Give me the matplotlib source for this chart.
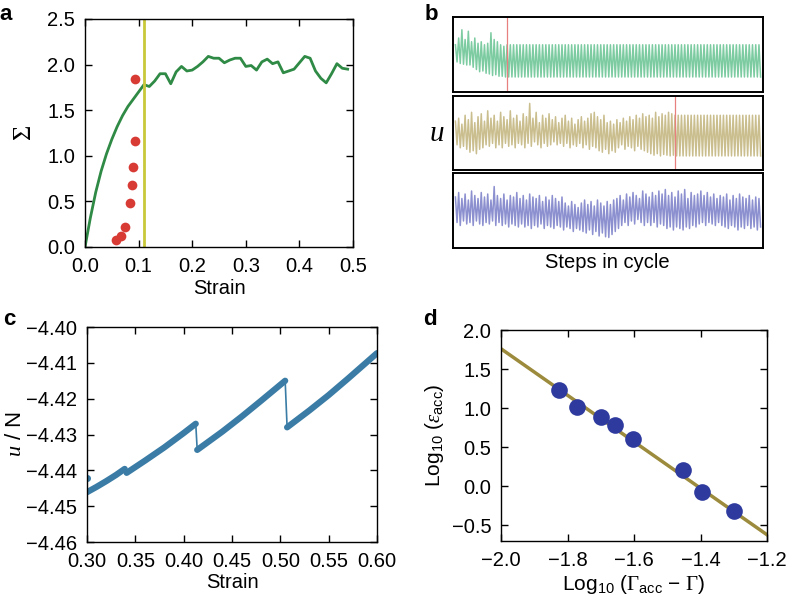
import matplotlib
matplotlib.use("Agg")
import matplotlib.pyplot as plt
import numpy as np

plt.rcParams['font.family'] = ['Liberation Sans', 'DejaVu Sans']
plt.rcParams['mathtext.fontset'] = 'custom'
plt.rcParams['mathtext.rm'] = 'Liberation Serif'
plt.rcParams['mathtext.it'] = 'Liberation Serif:italic'
plt.rcParams['mathtext.sf'] = 'Liberation Sans'

# ---- panel a: stress-strain curve ----
strain_a = [0.00, 0.01, 0.02, 0.03, 0.04, 0.05, 0.06, 0.07, 0.08, 0.09, 0.10, 0.11,
            0.12, 0.13, 0.14, 0.15, 0.16, 0.17, 0.18, 0.19, 0.20, 0.21, 0.22, 0.23,
            0.24, 0.25, 0.26, 0.27, 0.28, 0.29, 0.30, 0.31, 0.32, 0.33, 0.34, 0.35,
            0.36, 0.37, 0.38, 0.39, 0.40, 0.41, 0.42, 0.43, 0.44, 0.45, 0.46, 0.47,
            0.48, 0.49]
sigma_a = [0.00, 0.32, 0.60, 0.83, 1.02, 1.18, 1.32, 1.44, 1.54, 1.62, 1.70, 1.78,
           1.76, 1.82, 1.90, 1.90, 1.79, 1.92, 1.98, 1.93, 1.94, 1.98, 2.03, 2.09,
           2.07, 2.07, 2.02, 2.05, 2.07, 2.07, 1.98, 1.99, 1.94, 2.03, 2.06, 2.01,
           2.03, 1.91, 1.93, 1.95, 2.02, 2.09, 2.07, 1.93, 1.85, 1.80, 1.90, 2.01,
           1.96, 1.95]
red_strain = [0.058, 0.068, 0.074, 0.0845, 0.0876, 0.089, 0.0925, 0.094]
red_sigma = [0.08, 0.12, 0.22, 0.48, 0.68, 0.88, 1.16, 1.84]
yield_strain = 0.11

# ---- panel b: energy traces over a cycle (normalised to box height) ----
green_peaks = [0.63, 0.72, 0.83, 0.70, 0.81, 0.67, 0.72, 0.65, 0.67, 0.63, 0.65, 0.79,
               0.70, 0.67, 0.63, 0.61]
green_troughs = [0.40, 0.38, 0.37, 0.36, 0.36, 0.33, 0.30, 0.27, 0.28, 0.25, 0.24, 0.22,
                 0.23, 0.21, 0.21, 0.20]
green_cycle = [0.63, 0.20]
green_n_cycles = 79

tan_peaks = [0.66, 0.70, 0.62, 0.74, 0.68, 0.78, 0.64, 0.72, 0.76, 0.66,
             0.80, 0.70, 0.74, 0.66, 0.78, 0.72, 0.68, 0.80, 0.70, 0.74,
             0.66, 0.76, 0.72, 0.90, 0.70, 0.78, 0.64, 0.74, 0.70, 0.76,
             0.68, 0.72, 0.64, 0.70, 0.74, 0.66, 0.70, 0.62, 0.68, 0.72,
             0.66, 0.70, 0.76, 0.78, 0.72, 0.68, 0.74, 0.64, 0.66, 0.62,
             0.68, 0.64, 0.70, 0.66, 0.72, 0.68, 0.74, 0.70, 0.76, 0.72,
             0.74, 0.70, 0.78, 0.72, 0.76, 0.74, 0.78, 0.76]
tan_troughs = [0.34, 0.30, 0.32, 0.28, 0.24, 0.26, 0.22, 0.28, 0.30, 0.34,
               0.32, 0.36, 0.30, 0.34, 0.30, 0.36, 0.32, 0.34, 0.30, 0.36,
               0.34, 0.30, 0.36, 0.32, 0.38, 0.34, 0.30, 0.36, 0.32, 0.34,
               0.38, 0.34, 0.36, 0.32, 0.36, 0.30, 0.34, 0.32, 0.36, 0.30,
               0.34, 0.28, 0.32, 0.30, 0.26, 0.24, 0.28, 0.22, 0.26, 0.24,
               0.30, 0.34, 0.28, 0.32, 0.30, 0.26, 0.32, 0.28, 0.26, 0.24,
               0.22, 0.20, 0.22, 0.19, 0.21, 0.20, 0.19, 0.20]
tan_cycle = [0.74, 0.19]
tan_n_cycles = 27

blue_peaks = [0.68, 0.74, 0.66, 0.72, 0.64, 0.76, 0.70, 0.66, 0.74, 0.68,
              0.72, 0.64, 0.82, 0.70, 0.66, 0.72, 0.64, 0.70, 0.68, 0.74,
              0.66, 0.70, 0.64, 0.72, 0.68, 0.66, 0.70, 0.62, 0.68, 0.64,
              0.70, 0.66, 0.62, 0.68, 0.60, 0.56, 0.62, 0.58, 0.54, 0.60,
              0.64, 0.58, 0.62, 0.56, 0.64, 0.60, 0.56, 0.62, 0.58, 0.64,
              0.66, 0.70, 0.64, 0.72, 0.68, 0.74, 0.70, 0.66, 0.76, 0.72,
              0.68, 0.74, 0.70, 0.76, 0.72, 0.78, 0.70, 0.74, 0.68, 0.76,
              0.72, 0.78, 0.66, 0.74, 0.70, 0.72, 0.76, 0.70, 0.74, 0.68,
              0.72, 0.66, 0.70, 0.68, 0.72, 0.64, 0.70, 0.66, 0.72, 0.68,
              0.66, 0.70, 0.64, 0.68, 0.66]
blue_troughs = [0.34, 0.30, 0.36, 0.32, 0.34, 0.30, 0.36, 0.32, 0.30, 0.34,
                0.32, 0.36, 0.30, 0.34, 0.30, 0.32, 0.28, 0.32, 0.30, 0.28,
                0.32, 0.28, 0.30, 0.26, 0.30, 0.28, 0.32, 0.26, 0.30, 0.28,
                0.26, 0.30, 0.28, 0.24, 0.28, 0.26, 0.22, 0.26, 0.24, 0.22,
                0.20, 0.24, 0.18, 0.22, 0.16, 0.20, 0.15, 0.14, 0.18, 0.22,
                0.26, 0.30, 0.34, 0.30, 0.36, 0.32, 0.38, 0.34, 0.30, 0.34,
                0.30, 0.34, 0.28, 0.32, 0.30, 0.26, 0.28, 0.24, 0.28, 0.26,
                0.24, 0.28, 0.26, 0.30, 0.28, 0.32, 0.34, 0.30, 0.34, 0.32,
                0.30, 0.34, 0.30, 0.28, 0.26, 0.30, 0.28, 0.24, 0.28, 0.26,
                0.30, 0.26, 0.28, 0.24, 0.28]

# ---- panel c: energy per particle vs strain (segments between plastic events) ----
seg_x = [[0.300, 0.310, 0.320, 0.330, 0.339],
         [0.341, 0.360, 0.380, 0.400, 0.4125],
         [0.414, 0.440, 0.460, 0.480, 0.505],
         [0.507, 0.530, 0.550, 0.570, 0.600]]
seg_y = [[-4.4461, -4.4446, -4.4430, -4.4413, -4.4396],
         [-4.4407, -4.4373, -4.4336, -4.4296, -4.4270],
         [-4.4343, -4.4292, -4.4250, -4.4206, -4.4150],
         [-4.4280, -4.4233, -4.4190, -4.4144, -4.4073]]
start_x = 0.300
start_y = -4.4420

# ---- panel d: scaling ----
log_dgamma = [-1.826, -1.772, -1.698, -1.658, -1.604, -1.452, -1.395, -1.300]
log_eps = [1.23, 1.02, 0.89, 0.78, 0.61, 0.21, -0.075, -0.32]
fit_x = [-2.0, -1.2]
fit_y = [1.76, -0.62]

fig = plt.figure(figsize=(7.88, 6.06), dpi=100)
W, H = 788.0, 606.0


def box(l, t, r, b):
    return fig.add_axes([l / W, 1 - b / H, (r - l) / W, (b - t) / H])


def fmt(decimals):
    return matplotlib.ticker.FuncFormatter(
        lambda v, p: f'{v:.{decimals}f}'.replace('-', '\u2212'))


def style(ax, dx, dy):
    ax.tick_params(direction='in', top=True, right=True, length=5, width=1,
                   pad=7, labelsize=14.5)
    ax.xaxis.set_major_formatter(fmt(dx))
    ax.yaxis.set_major_formatter(fmt(dy))
    for s in ax.spines.values():
        s.set_linewidth(1.0)


# panel a
ax_a = box(85, 19, 353, 247)
ax_a.plot(strain_a, sigma_a, color='#2f8a45', lw=2)
ax_a.axvline(yield_strain, color='#c8c83a', lw=2)
ax_a.plot(red_strain, red_sigma, 'o', color='#d83a34', ms=7, mec='none')
ax_a.set_xlim(0, 0.5)
ax_a.set_ylim(0, 2.5)
ax_a.set_xticks(np.arange(0, 0.51, 0.1))
ax_a.set_yticks(np.arange(0, 2.51, 0.5))
style(ax_a, 1, 1)
ax_a.set_xlabel('Strain', fontsize=14.5, labelpad=2)
ax_a.set_ylabel(r'$\Sigma$', fontsize=19, labelpad=8)

# panel b
traces = [
    (green_peaks, green_troughs, green_cycle, green_n_cycles, '#5cbf8a', (453, 17, 763, 92)),
    (tan_peaks, tan_troughs, tan_cycle, tan_n_cycles, '#bdae72', (453, 96, 763, 170)),
    (blue_peaks, blue_troughs, None, 0, '#6f74c4', (453, 173, 763, 248)),
]
for peaks, troughs, cycle, n, col, (l, t, r, b) in traces:
    ax = box(l, t, r, b)
    y = list(np.column_stack([peaks, troughs]).ravel())
    n_noisy = len(y)
    if cycle is not None:
        y = y + cycle * n
    ax.plot(np.arange(len(y)), y, color=col, lw=1.1, alpha=0.8)
    if cycle is not None:
        ax.axvline(n_noisy, color='#e88080', lw=0.9)
    ax.set_xlim(-1.5, len(y) + 0.5)
    ax.set_ylim(0, 1)
    ax.set_xticks([])
    ax.set_yticks([])
    for s in ax.spines.values():
        s.set_linewidth(1.4)
fig.text(437 / W, 1 - 133 / H, r'$u$', fontsize=21, ha='center', va='center')
fig.text(607 / W, 1 - 263 / H, 'Steps in cycle', fontsize=14.5, ha='center', va='center')

# panel c
ax_c = box(87, 327, 377, 542)
blue_c = '#3a7ca5'
all_x = [start_x] + [v for s in seg_x for v in s]
all_y = [start_y] + [v for s in seg_y for v in s]
ax_c.plot(all_x, all_y, color=blue_c, lw=1.2)
for sx, sy in zip(seg_x, seg_y):
    ax_c.plot(sx, sy, color=blue_c, lw=4.5, solid_capstyle='round')
ax_c.plot([start_x], [start_y], 'o', color=blue_c, ms=4)
ax_c.set_xlim(0.30, 0.60)
ax_c.set_ylim(-4.46, -4.40)
ax_c.set_xticks(np.arange(0.30, 0.601, 0.05))
ax_c.set_yticks(np.arange(-4.46, -4.399, 0.01))
style(ax_c, 2, 2)
ax_c.set_xlabel('Strain', fontsize=14.5, labelpad=2)
ax_c.set_ylabel(r'$u$ / N', fontsize=16, labelpad=0)

# panel d
ax_d = box(501, 330, 767, 541)
ax_d.plot(fit_x, fit_y, color='#9c8b3c', lw=2.5)
ax_d.plot(log_dgamma, log_eps, 'o', color='#2e3a9e', ms=12, mec='none')
ax_d.set_xlim(-2.0, -1.2)
ax_d.set_ylim(-0.7, 2.0)
ax_d.set_xticks(np.arange(-2.0, -1.19, 0.2))
ax_d.set_yticks(np.arange(-0.5, 2.01, 0.5))
style(ax_d, 1, 1)
ax_d.set_xlabel(r'Log$_{\mathsf{10}}$ ($\Gamma_{\mathsf{acc}}$ − $\Gamma$)', fontsize=15, labelpad=2)
ax_d.set_ylabel(r'Log$_{\mathsf{10}}$ ($\varepsilon_{\mathsf{acc}}$)', fontsize=15, labelpad=4)

# panel letters
for letter, x, y in [('a', 6, 15), ('b', 431, 15), ('c', 9, 320), ('d', 430, 320)]:
    fig.text(x / W, 1 - y / H, letter, fontsize=16, fontweight='bold', ha='center', va='center')

fig.savefig('out.png', dpi=100)
